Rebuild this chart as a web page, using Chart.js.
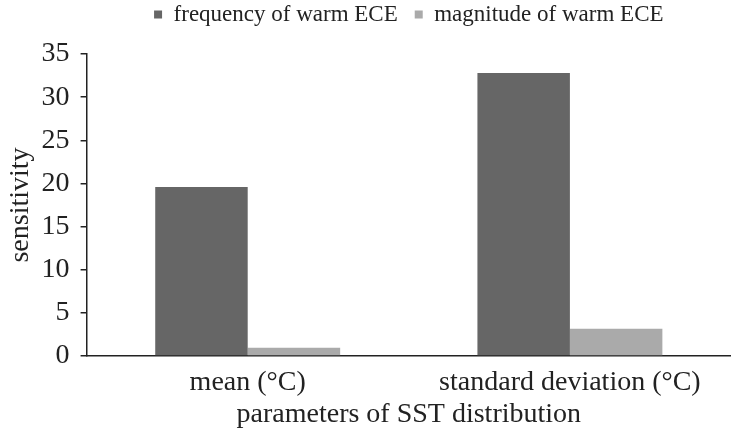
<!DOCTYPE html>
<html>
<head>
<meta charset="utf-8">
<script src="https://cdn.jsdelivr.net/npm/chart.js@4/dist/chart.umd.min.js"></script>
<style>
html,body{margin:0;padding:0;background:#fff;}
#wrap{width:731px;height:430px;position:relative;}
</style>
</head>
<body>
<div id="wrap"><canvas id="c" width="731" height="430"></canvas></div>
<script>
const categories = ['mean (°C)', 'standard deviation (°C)'];
const seriesNames = ['frequency of warm ECE', 'magnitude of warm ECE'];
const frequencyValues = [19.6, 32.8];
const magnitudeValues = [0.95, 3.15];
const yMin = 0, yMax = 35, yStep = 5;
const xTitle = 'parameters of SST distribution';
const yTitle = 'sensitivity';

const serif = "'Liberation Serif', 'Times New Roman', serif";

new Chart(document.getElementById('c'), {
  type: 'bar',
  data: {
    labels: categories,
    datasets: [
      { label: seriesNames[0], data: frequencyValues, backgroundColor: '#666666', borderWidth: 0 },
      { label: seriesNames[1], data: magnitudeValues, backgroundColor: '#aaaaaa', borderWidth: 0 }
    ]
  },
  options: {
    responsive: false,
    animation: false,
    devicePixelRatio: 1,
    layout: { padding: { left: 0, right: 0, top: -14, bottom: 0 } },
    datasets: { bar: { categoryPercentage: 0.574, barPercentage: 1.0 } },
    plugins: {
      legend: {
        position: 'top',
        fullSize: false,
        labels: {
          font: { family: serif, size: 23 },
          color: '#222',
          boxWidth: 8,
          boxHeight: 8,
          padding: 17
        }
      },
      subtitle: {
        display: true,
        text: '',
        position: 'top',
        weight: 500,
        font: { size: 10, lineHeight: 1.0 },
        padding: { top: 4, bottom: 4 }
      },
      tooltip: { enabled: false }
    },
    scales: {
      x: {
        grid: { display: false, drawTicks: false },
        border: { display: true, color: '#222', width: 1.5 },
        ticks: { font: { family: serif, size: 28, lineHeight: 1.0 }, color: '#222', padding: 13 },
        title: { display: true, text: xTitle, font: { family: serif, size: 28, lineHeight: 1.0 }, color: '#222', padding: { top: -9, bottom: 1 } }
      },
      y: {
        min: yMin, max: yMax,
        grid: { display: true, drawOnChartArea: false, drawTicks: true, tickLength: 6, color: '#222', lineWidth: 1.5 },
        border: { display: true, color: '#222', width: 1.5 },
        ticks: { stepSize: yStep, font: { family: serif, size: 28 }, color: '#222', padding: 11 },
        title: { display: true, text: yTitle, font: { family: serif, size: 28, lineHeight: 1.2 }, color: '#222', padding: { top: 4, bottom: -7 } }
      }
    }
  }
});
</script>
</body>
</html>
